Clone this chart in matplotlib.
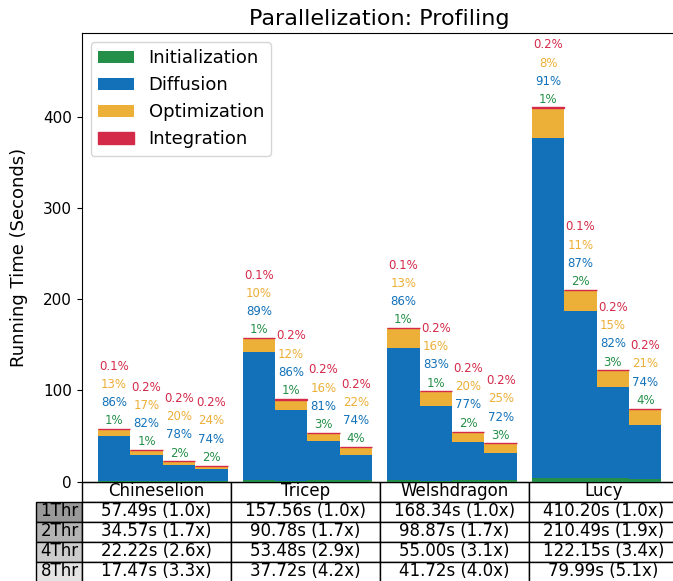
import matplotlib
matplotlib.use("Agg")
import matplotlib.pyplot as plt
import numpy as np

models = ["Chineselion", "Tricep", "Welshdragon", "Lucy"]
threads = ["1Thr", "2Thr", "4Thr", "8Thr"]
components = ["Initialization", "Diffusion", "Optimization", "Integration"]

totals = {
    "Chineselion": [57.49, 34.57, 22.22, 17.47],
    "Tricep": [157.56, 90.78, 53.48, 37.72],
    "Welshdragon": [168.34, 98.87, 55.00, 41.72],
    "Lucy": [410.20, 210.49, 122.15, 79.99],
}
speedups = {
    "Chineselion": [1.0, 1.7, 2.6, 3.3],
    "Tricep": [1.0, 1.7, 2.9, 4.2],
    "Welshdragon": [1.0, 1.7, 3.1, 4.0],
    "Lucy": [1.0, 1.9, 3.4, 5.1],
}
# percentages per component
init_pct = {
    "Chineselion": [1, 1, 2, 2],
    "Tricep": [1, 1, 3, 4],
    "Welshdragon": [1, 1, 2, 3],
    "Lucy": [1, 2, 3, 4],
}
diff_pct = {
    "Chineselion": [86, 82, 78, 74],
    "Tricep": [89, 86, 81, 74],
    "Welshdragon": [86, 83, 77, 72],
    "Lucy": [91, 87, 82, 74],
}
opt_pct = {
    "Chineselion": [13, 17, 20, 24],
    "Tricep": [10, 12, 16, 22],
    "Welshdragon": [13, 16, 20, 25],
    "Lucy": [8, 11, 15, 21],
}
integ_pct = {
    "Chineselion": [0.1, 0.2, 0.2, 0.2],
    "Tricep": [0.1, 0.2, 0.2, 0.2],
    "Welshdragon": [0.1, 0.2, 0.2, 0.2],
    "Lucy": [0.2, 0.1, 0.2, 0.2],
}

colors = ["#248f48", "#1271b8", "#ecaf38", "#d42a4a"]
row_colors = ["#999999", "#b3b3b3", "#cccccc", "#e3e3e3"]

W, H = 673, 581
fig = plt.figure(figsize=(W / 100, H / 100), dpi=100)
ax = fig.add_axes([81.7 / W, (H - 481.5) / H, 596 / W, 448.5 / H])

group_step = 4.4615
pct_sets = [init_pct, diff_pct, opt_pct, integ_pct]

for gi, m in enumerate(models):
    xs = gi * group_step + np.arange(len(threads)) + 0.5
    tot = np.array(totals[m])
    bottom = np.zeros(len(threads))
    for ci, pset in enumerate(pct_sets):
        h = tot * np.array(pset[m]) / 100.0
        kw = {}
        if ci == 3:
            kw = dict(edgecolor=colors[3], linewidth=1.0)
        ax.bar(xs, h, width=1.0, bottom=bottom, color=colors[ci],
               label=components[ci] if gi == 0 else None, **kw)
        bottom = bottom + h
    for j in range(len(threads)):
        for ci, pset in enumerate(pct_sets):
            v = pset[m][j]
            ax.text(xs[j], tot[j] + 9 + 20 * ci, f"{v:g}%", color=colors[ci],
                    ha="center", va="center", fontsize=8.5)

ax.set_xlim(-0.5, 3 * group_step + 4 + 0.5)
ax.set_ylim(0, max(totals["Lucy"]) * 1.2)
ax.set_xticks([])
ax.set_yticks([0, 100, 200, 300, 400])
ax.tick_params(axis="y", labelsize=11)
ax.set_ylabel("Running Time (Seconds)", fontsize=13, labelpad=11)
ax.set_title("Parallelization: Profiling", fontsize=16)
ax.legend(loc="upper left", fontsize=13)

cell_text = [[f"{totals[m][j]:.2f}s ({speedups[m][j]:.1f}x)" for m in models]
             for j in range(len(threads))]
tbl = ax.table(cellText=cell_text, rowLabels=threads, rowColours=row_colors,
               colLabels=models, loc="bottom", cellLoc="center")
tbl.auto_set_font_size(False)
tbl.set_fontsize(12)
ch = 20.0 / 448.5
for (r, c), cell in tbl.get_celld().items():
    cell.set_height(ch)

fig.savefig("out.png", dpi=100)
